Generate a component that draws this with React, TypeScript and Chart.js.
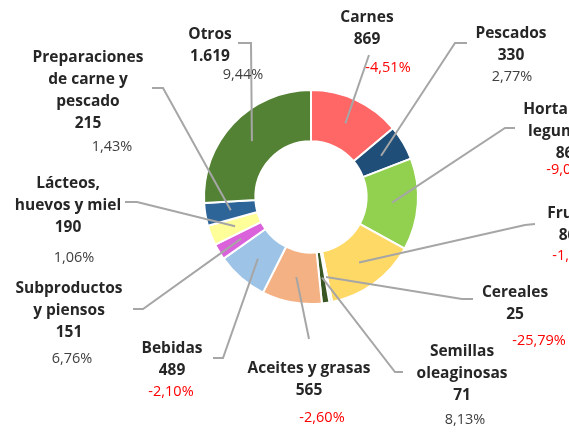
import React, { useEffect, useRef } from "react";
import { Chart, registerables } from "chart.js";

Chart.register(...registerables);

const categories = [
  "Carnes",
  "Pescados",
  "Hortalizas y legumbres",
  "Frutas",
  "Cereales",
  "Semillas oleaginosas",
  "Aceites y grasas",
  "Bebidas",
  "Subproductos y piensos",
  "Lácteos, huevos y miel",
  "Preparaciones de carne y pescado",
  "Otros",
];
const categoryLines = [
  ["Carnes"],
  ["Pescados"],
  ["Hortalizas y", "legumbres"],
  ["Frutas"],
  ["Cereales"],
  ["Semillas", "oleaginosas"],
  ["Aceites y grasas"],
  ["Bebidas"],
  ["Subproductos", "y piensos"],
  ["Lácteos,", "huevos y miel"],
  ["Preparaciones", "de carne y", "pescado"],
  ["Otros"],
];
const values = [869, 330, 867, 864, 25, 71, 565, 489, 151, 190, 215, 1619];
const valueLabels = ["869", "330", "867", "864", "25", "71", "565", "489", "151", "190", "215", "1.619"];
const variations = ["-4,51%", "2,77%", "-9,03%", "-1,25%", "-25,79%", "8,13%", "-2,60%", "-2,10%", "6,76%", "1,06%", "1,43%", "9,44%"];
const colors = [
  "#FF6666",
  "#1F4E79",
  "#92D050",
  "#FFD966",
  "#DDEBF7",
  "#375623",
  "#F4B183",
  "#9DC3E6",
  "#DA62DA",
  "#FFFF99",
  "#2E6599",
  "#548235",
];

// label layout: text block center x, first line y, percent position, leader elbow path
const labelLayout = [
  { x: 367, y: 18, px: 388, py: 68, path: [[369, 55]] },
  { x: 511, y: 34, px: 512, py: 77, path: [[455, 43], [467, 43]] },
  { x: 569, y: 110, px: 569, py: 170, path: [[505, 128], [515, 128]] },
  { x: 572, y: 214, px: 575, py: 256, path: [[525, 225], [535, 224]] },
  { x: 515, y: 293, px: 539, py: 341, path: [[462, 299], [473, 299]] },
  { x: 462, y: 352, px: 465, py: 420, path: [[395, 372], [403, 372]] },
  { x: 309, y: 369, px: 322, py: 418, path: [[309, 339]] },
  { x: 172, y: 349, px: 171, py: 392, path: [[223, 358], [213, 358]] },
  { x: 69, y: 289, px: 72, py: 359, path: [[143, 309], [133, 309]] },
  { x: 68, y: 184, px: 74, py: 258, path: [[137, 202], [125, 202]] },
  { x: 88, y: 58, px: 112, py: 147, path: [[163, 88], [152, 88]] },
  { x: 210, y: 35, px: 243, py: 75, path: [[251, 43], [238, 43]] },
];

const FONT = "'Open Sans', sans-serif";

const labelPlugin = {
  id: "leaderLabels",
  afterDatasetsDraw(chart: any) {
    const ctx = chart.ctx;
    const meta = chart.getDatasetMeta(0);
    ctx.save();
    meta.data.forEach((arc: any, i: number) => {
      const p = arc.getProps(["x", "y", "startAngle", "endAngle", "innerRadius", "outerRadius"], true);
      const a = (p.startAngle + p.endAngle) / 2;
      const r = (p.innerRadius + p.outerRadius) / 2;
      const sx = p.x + r * Math.cos(a);
      const sy = p.y + r * Math.sin(a);
      const L = labelLayout[i];
      ctx.beginPath();
      ctx.strokeStyle = "#A6A6A6";
      ctx.lineWidth = 2;
      ctx.moveTo(sx, sy);
      L.path.forEach((pt: number[]) => ctx.lineTo(pt[0], pt[1]));
      ctx.stroke();
    });
    meta.data.forEach((arc: any, i: number) => {
      const L = labelLayout[i];
      ctx.textAlign = "center";
      ctx.textBaseline = "middle";
      ctx.fillStyle = "#262626";
      ctx.font = `bold 15.5px ${FONT}`;
      const lines = [...categoryLines[i], valueLabels[i]];
      lines.forEach((t, k) => ctx.fillText(t, L.x, L.y + k * 22));
      ctx.font = `14.5px ${FONT}`;
      ctx.fillStyle = variations[i].startsWith("-") ? "#FF0000" : "#404040";
      ctx.fillText(variations[i], L.px, L.py);
    });
    ctx.restore();
  },
};

export default function App() {
  const ref = useRef<HTMLCanvasElement>(null);
  useEffect(() => {
    const chart = new Chart(ref.current!, {
      type: "doughnut",
      data: {
        labels: categories,
        datasets: [
          {
            data: values,
            backgroundColor: colors,
            borderColor: "#FFFFFF",
            borderWidth: 2,
          },
        ],
      },
      options: {
        responsive: false,
        animation: false,
        cutout: "52%",
        layout: { padding: { left: 203, top: 89, right: 150, bottom: 127 } },
        plugins: { legend: { display: false }, tooltip: { enabled: false } },
      },
      plugins: [labelPlugin],
    });
    return () => chart.destroy();
  }, []);
  return (
    <div style={{ position: "absolute", left: 0, top: 0, width: 569, height: 432, background: "#fff" }}>
      <canvas ref={ref} width={569} height={432} />
    </div>
  );
}
